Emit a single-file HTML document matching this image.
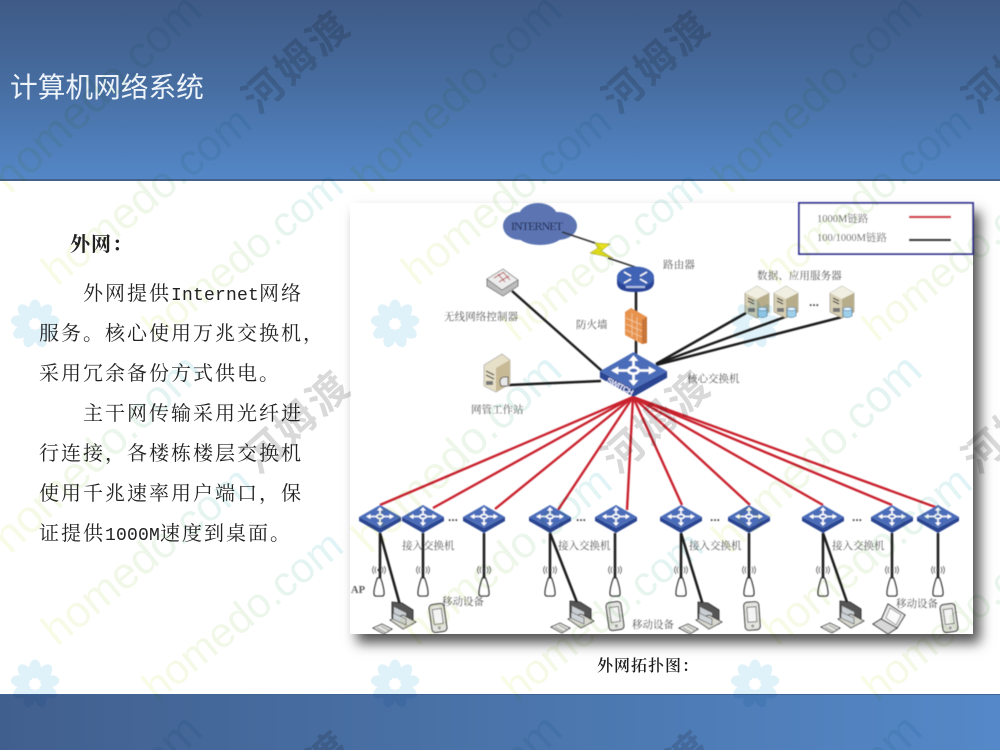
<!DOCTYPE html>
<html lang="zh">
<head>
<meta charset="utf-8">
<title>计算机网络系统</title>
<style>
html,body{margin:0;padding:0;background:#fff;overflow:hidden}
body{width:1000px;height:750px;position:relative;overflow:hidden}
.hd{position:absolute;left:0;top:0;width:1000px;height:179px;background:linear-gradient(180deg,#3f5a86 0%,#466c9f 45%,#5487c7 100%);border-bottom:2px solid #45618a}
.ft{position:absolute;left:0;top:694px;width:1000px;height:55px;background:linear-gradient(90deg,#415f8e 0%,#4a74aa 50%,#5588c8 100%);border-top:1px solid #3f6596}
.pn{position:absolute;left:350px;top:203px;width:623px;height:431px;background:#fff;box-shadow:7px 9px 12px rgba(0,0,0,.68)}
svg{position:absolute;left:0;top:0;display:block}
.wm{mix-blend-mode:multiply}
.b{font-family:"Liberation Serif","Noto Serif CJK SC",serif;font-size:20px;letter-spacing:2px;fill:#222}
.l{font-family:"Liberation Mono",monospace;font-size:18px;letter-spacing:.2px}
.d{font-family:"Liberation Serif","Noto Serif CJK SC",serif;font-size:10.5px;fill:#5a5a5a}
</style>
</head>
<body>
<div class="hd"></div>
<div class="ft"></div>
<div class="pn"></div>

<svg width="1000" height="750" viewBox="0 0 1000 750">
<defs>
  <g id="sw">
    <polygon points="-21,-2 0,9 21,-2 21,2 0,14 -21,2" fill="#2b4591"/>
    <polygon points="0,-14 21,-2 0,9 -21,-2" fill="#4c6db9"/>
    <g stroke="#fff" stroke-width="1.6" fill="none">
      <ellipse cx="0" cy="-2.5" rx="3.2" ry="2"/>
      <path d="M0 -5V-9M0 0V4M-3.5 -2.5H-10M3.5 -2.5H10"/>
    </g>
    <g fill="#fff">
      <polygon points="0,-12 -3,-8.5 3,-8.5"/>
      <polygon points="0,7 -3,3.5 3,3.5"/>
      <polygon points="-14,-2.5 -9.5,-5 -9.5,0"/>
      <polygon points="14,-2.5 9.5,-5 9.5,0"/>
    </g>
  </g>
  <g id="ap">
    <path d="M-1.5 0C-3.5 5 -5 12 -5 15.500Q-5 18 -2.500 18H2.500Q5 18 5 15.500C5 12 3.500 5 1.500 0Z" fill="#fff" stroke="#222" stroke-width="1.300"/>
    <g fill="none" stroke="#666" stroke-width=".9">
      <path d="M-3 -11Q-5 -8 -3 -5M3 -11Q5 -8 3 -5M-5 -12Q-8 -8 -5 -4M5 -12Q8 -8 5 -4"/>
    </g>
    <circle cx="0" cy="-8" r="1.500" fill="#333"/>
  </g>
  <g id="srv">
    <polygon points="12,0 24,7 24,26 12,32 0,26 0,7" fill="#d7cfb4" stroke="#8a8a78" stroke-width=".6"/>
    <polygon points="12,0 24,7 12,13 0,7" fill="#f1efe2"/>
    <polygon points="12,13 24,7 24,26 12,32" fill="#b8ad8b"/>
    <path d="M3 12l6 3M3 15l6 3" stroke="#333" stroke-width="1.200"/>
    <rect x="3" y="22" width="7" height="4" fill="#777"/>
    <path d="M13 23v7q4 3 9 0v-7z" fill="#9fd0ea" stroke="#4c7fa5" stroke-width=".7"/>
    <ellipse cx="17.500" cy="23" rx="4.500" ry="1.800" fill="#dff0fa" stroke="#4c7fa5" stroke-width=".7"/>
  </g>
  <g id="pc">
    <polygon points="-6,-14 4,-13 15,-6 15,8 3,8 -6,2" fill="#555" stroke="#222" stroke-width=".8"/>
    <polygon points="-4,-9 8,-3 8,8 -4,1" fill="#c9ced3"/>
    <polygon points="-8,4 5,-1 18,6 5,13" fill="#d8d8d0" stroke="#333" stroke-width=".8"/>
    <polygon points="-5,-3 8,3 8,9 -5,3" fill="#cfd4d8" stroke="#444" stroke-width=".6"/>
    <polygon points="-16,8 -6,13 -14,18 -25,12" fill="#e6e6e2" stroke="#333" stroke-width=".9"/>
    <path d="M-21 12l9 5M-17 10l9 5" stroke="#888" stroke-width=".8"/>
  </g>
  <g id="mb">
    <rect x="-7.500" y="-14" width="15" height="28" rx="3.500" fill="#e4e4e0" stroke="#333" stroke-width="1.100"/>
    <rect x="-4.500" y="-9" width="9" height="15" fill="#f4f4f4" stroke="#555" stroke-width=".8"/>
    <circle cx="0" cy="10" r="1.500" fill="#999"/>
  </g>
  <filter id="sf" x="-5%" y="-5%" width="110%" height="110%"><feGaussianBlur stdDeviation=".5"/></filter>
</defs>

<text x="10" y="97" font-family="'Liberation Sans','Noto Sans CJK SC',sans-serif" font-size="27.700" fill="#edf3f9">计算机网络系统</text>

<text x="70" y="251" font-family="'Liberation Serif','Noto Serif CJK SC',serif" font-size="20" font-weight="700" letter-spacing="1" fill="#222">外网：</text>
<text class="b" x="83" y="300">外网提供<tspan class="l">Internet</tspan>网络</text>
<text class="b" x="39" y="340">服务。核心使用万兆交换机，</text>
<text class="b" x="39" y="380">采用冗余备份方式供电。</text>
<text class="b" x="83" y="420">主干网传输采用光纤进</text>
<text class="b" x="39" y="460">行连接，各楼栋楼层交换机</text>
<text class="b" x="39" y="500">使用千兆速率用户端口，保</text>
<text class="b" x="39" y="540">证提供<tspan class="l">1000M</tspan>速度到桌面。</text>
<text x="597" y="671" font-family="'Liberation Serif','Noto Serif CJK SC',serif" font-size="16" letter-spacing="1" font-weight="600" fill="#1c1c1c">外网拓扑图：</text>

<g filter="url(#sf)">
  <!-- cloud -->
  <g fill="#5b75b2">
    <ellipse cx="520" cy="226" rx="17" ry="14"/>
    <ellipse cx="538" cy="218" rx="20" ry="15"/>
    <ellipse cx="558" cy="226" rx="19" ry="14"/>
    <ellipse cx="540" cy="233" rx="24" ry="12"/>
  </g>
  <text x="511" y="230" font-family="'Liberation Serif',serif" font-size="12" fill="#1b2450" textLength="52">INTERNET</text>
  <!-- bolt -->
  <path d="M562 232L595 243" stroke="#333" stroke-width="1.500"/>
  <polygon points="595,243 610,244 601,251 613,258 590,253 598,248" fill="#e8e01a" stroke="#8a8a20" stroke-width=".5"/>
  <path d="M608 258L635 267" stroke="#333" stroke-width="1.500"/>

  <!-- black links -->
  <g stroke="#1a1a1a" stroke-width="2.500" fill="none">
    <path d="M636 290V355"/>
    <path d="M512 291L602 371"/>
    <path d="M509 385L601 381"/>
    <path d="M656 364L746 313"/>
    <path d="M656 364L785 317"/>
    <path d="M656 365L842 317"/>
    <path d="M380 533V578M423 533V578M484 533V578M550 533V578M615 533V578M681 533V578M749 533V578M823 533V578M892 533V578M938 533V578"/>
    <path d="M380 533L400 605M550 533L578 605M681 533L703 605M823 533L848 605"/>
  </g>

  <!-- red links -->
  <g stroke="#c9242d" stroke-width="2.400" fill="none">
    <path d="M633 397L380 505"/>
    <path d="M633 397L433 508"/>
    <path d="M633 397L495 509"/>
    <path d="M633 397L558 510"/>
    <path d="M633 397L627 510"/>
    <path d="M633 397L682 505"/>
    <path d="M633 397L750 505"/>
    <path d="M633 397L823 505"/>
    <path d="M633 397L892 505"/>
    <path d="M633 397L938 508"/>
  </g>

  <!-- router -->
  <path d="M617 278v5q0 9 18 9t19-9v-5z" fill="#2a4596"/>
  <ellipse cx="635.500" cy="277" rx="18.500" ry="10.500" fill="#3f63b5"/>
  <g stroke="#fff" stroke-width="1.500" fill="none">
    <path d="M624 272l7 4M647 272l-7 4M624 283l7-4M647 283l-7-4"/>
  </g>
  <rect x="626" y="286" width="19" height="2" fill="#aebde2"/>

  <!-- firewall -->
  <polygon points="625,312 631,308 647,317 647,343 642,344 625,335" fill="#e7924e"/>
  <polygon points="642,320 647,317 647,343 642,344" fill="#c77437"/>
  <g stroke="#f6c9a0" stroke-width=".8" fill="none">
    <path d="M626 318l16 7M626 324l16 7M626 330l16 7M632 313v24M637 317v24"/>
  </g>

  <!-- wireless controller -->
  <polygon points="487,279 502,290 518,280 518,286 503,296 487,286" fill="#bcbcbc" stroke="#555" stroke-width=".7"/>
  <polygon points="487,279 503,269 518,280 502,290" fill="#ececec" stroke="#666" stroke-width=".7"/>
  <path d="M494 278l10-6M499 282l10-6M498 274l7 8M503 272l7 8" stroke="#b04444" stroke-width=".9"/>

  <!-- workstation -->
  <polygon points="484,365 502,354 510,360 510,384 496,392 484,386" fill="#e7e0c8" stroke="#999" stroke-width=".6"/>
  <polygon points="496,368 510,360 510,384 496,392" fill="#c7ba95"/>
  <path d="M486 371l8 4M486 375l8 4" stroke="#333" stroke-width="1.200"/>
  <rect x="486" y="381" width="7" height="4" fill="#777"/>
  <path d="M500 382q0-5 5-5h3v9h-7z" fill="#e8e8e8" stroke="#333" stroke-width=".8"/>

  <!-- servers -->
  <use href="#srv" x="745" y="286"/>
  <use href="#srv" x="774" y="286"/>
  <use href="#srv" x="830" y="286"/>

  <!-- core switch -->
  <g transform="translate(633.500,374.500) scale(1.600)"><use href="#sw"/></g>
  <text transform="translate(606,382) rotate(28)" font-family="'Liberation Sans',sans-serif" font-size="8" font-weight="700" fill="#eef" textLength="29">SWITCH</text>

  <!-- access switches -->
  <use href="#sw" x="380" y="519"/>
  <use href="#sw" x="423" y="519"/>
  <use href="#sw" x="484" y="519"/>
  <use href="#sw" x="550" y="519"/>
  <use href="#sw" x="616" y="519"/>
  <use href="#sw" x="681" y="519"/>
  <use href="#sw" x="749" y="519"/>
  <use href="#sw" x="823" y="519"/>
  <use href="#sw" x="892" y="519"/>
  <use href="#sw" x="938" y="519"/>

  <!-- APs -->
  <use href="#ap" x="379" y="578"/>
  <use href="#ap" x="423" y="578"/>
  <use href="#ap" x="484" y="578"/>
  <use href="#ap" x="550" y="578"/>
  <use href="#ap" x="615" y="578"/>
  <use href="#ap" x="681" y="578"/>
  <use href="#ap" x="749" y="578"/>
  <use href="#ap" x="823" y="578"/>
  <use href="#ap" x="892" y="578"/>
  <use href="#ap" x="938" y="578"/>

  <!-- PCs -->
  <use href="#pc" x="398" y="616"/>
  <use href="#pc" x="576" y="615"/>
  <use href="#pc" x="704" y="616"/>
  <use href="#pc" x="846" y="615"/>

  <!-- mobiles -->
  <g transform="translate(438,618) rotate(-8)"><use href="#mb"/></g>
  <g transform="translate(615,616) rotate(-8)"><use href="#mb"/></g>
  <g transform="translate(752,616) rotate(-4)"><use href="#mb"/></g>
  <g transform="translate(949,618) rotate(-8)"><use href="#mb"/></g>

  <!-- laptop -->
  <polygon points="881,620 888,604 905,615 897,628" fill="#e8e8e8" stroke="#222" stroke-width="1"/>
  <polygon points="886,618 890,608 901,615 896,625" fill="#fafafa" stroke="#666" stroke-width=".6"/>
  <polygon points="873,624 881,619 897,628 888,634" fill="#d8d8d8" stroke="#222" stroke-width="1"/>

  <!-- dots -->
  <g font-family="'Liberation Sans',sans-serif" font-size="12" font-weight="700" fill="#444">
    <text x="809" y="306">...</text>
    <text x="448" y="521">...</text>
    <text x="576" y="521">...</text>
    <text x="710" y="521">...</text>
    <text x="852" y="521">...</text>
  </g>

  <!-- labels -->
  <text class="d" x="663" y="268" letter-spacing=".2">路由器</text>
  <text class="d" x="757" y="279" letter-spacing=".1">数据、应用服务器</text>
  <text class="d" x="444" y="320" letter-spacing=".1">无线网络控制器</text>
  <text class="d" x="576" y="328">防火墙</text>
  <text class="d" x="687" y="382">核心交换机</text>
  <text class="d" x="471" y="413">网管工作站</text>
  <text class="d" x="402" y="549">接入交换机</text>
  <text class="d" x="558" y="549">接入交换机</text>
  <text class="d" x="689" y="549">接入交换机</text>
  <text class="d" x="832" y="549">接入交换机</text>
  <text class="d" x="442" y="605">移动设备</text>
  <text class="d" x="632" y="628">移动设备</text>
  <text class="d" x="896" y="607">移动设备</text>
  <text class="d" x="351" y="593" font-weight="700" fill="#333">AP</text>

  <!-- legend -->
  <rect x="799" y="203" width="174" height="51" fill="#fff" stroke="#2a2a92" stroke-width="1.800"/>
  <text class="d" x="817" y="222" fill="#444">1000M链路</text>
  <text class="d" x="817" y="241" fill="#444">100/1000M链路</text>
  <path d="M909 217H951" stroke="#cf2a34" stroke-width="2.200"/>
  <path d="M909 240H951" stroke="#161616" stroke-width="2.200"/>
</g>
</svg>

<!-- watermark -->
<svg class="wm" width="1000" height="750" viewBox="0 0 1000 750">
<defs>
  <linearGradient id="wg" x1="0" y1="0" x2="1" y2="0">
    <stop offset="0" stop-color="#f9fbe6"/>
    <stop offset=".45" stop-color="#eff7e8"/>
    <stop offset="1" stop-color="#e0f3f6"/>
  </linearGradient>
  <g id="fl" fill="#e0f2f9">
    <ellipse cx="0" cy="-15" rx="6" ry="9.500"/>
    <ellipse cx="0" cy="-15" rx="6" ry="9.500" transform="rotate(40)"/>
    <ellipse cx="0" cy="-15" rx="6" ry="9.500" transform="rotate(80)"/>
    <ellipse cx="0" cy="-15" rx="6" ry="9.500" transform="rotate(120)"/>
    <ellipse cx="0" cy="-15" rx="6" ry="9.500" transform="rotate(160)"/>
    <ellipse cx="0" cy="-15" rx="6" ry="9.500" transform="rotate(200)"/>
    <ellipse cx="0" cy="-15" rx="6" ry="9.500" transform="rotate(240)"/>
    <ellipse cx="0" cy="-15" rx="6" ry="9.500" transform="rotate(280)"/>
    <ellipse cx="0" cy="-15" rx="6" ry="9.500" transform="rotate(320)"/>
  </g>
  <g id="tl">
    <text transform="translate(10,195) rotate(-43)" font-family="'Liberation Sans',sans-serif" font-size="46" fill="url(#wg)">homedo.com</text>
    <text transform="translate(57,287) rotate(-39)" font-family="'Liberation Sans',sans-serif" font-size="44" fill="url(#wg)">homedo.com</text>
    <text transform="translate(157,343) rotate(-39)" font-family="'Liberation Sans',sans-serif" font-size="42" fill="url(#wg)">homedo.com</text>
    <text transform="translate(306,72) rotate(-42)" text-anchor="middle" font-family="'Liberation Sans','Noto Sans CJK SC',sans-serif" font-size="40" font-weight="700" letter-spacing="3" fill="#d9d9d9">河姆渡</text>
    <use href="#fl" x="35" y="324"/>
  </g>
  <pattern id="wp" patternUnits="userSpaceOnUse" x="0" y="0" width="360" height="360">
    <use href="#tl" x="-360" y="-360"/><use href="#tl" x="0" y="-360"/><use href="#tl" x="360" y="-360"/>
    <use href="#tl" x="-360" y="0"/><use href="#tl" x="0" y="0"/><use href="#tl" x="360" y="0"/>
    <use href="#tl" x="-360" y="360"/><use href="#tl" x="0" y="360"/><use href="#tl" x="360" y="360"/>
  </pattern>
</defs>
<rect x="0" y="0" width="1000" height="750" fill="url(#wp)"/>
</svg>
</body>
</html>
